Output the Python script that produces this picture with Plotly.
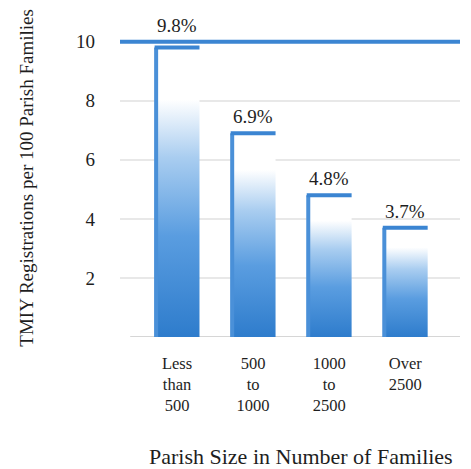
import plotly.graph_objects as go

categories = ["Less<br>than<br>500", "500<br>to<br>1000", "1000<br>to<br>2500", "Over<br>2500"]
values = [9.8, 6.9, 4.8, 3.7]
labels = ["9.8%", "6.9%", "4.8%", "3.7%"]
y_ticks = [2, 4, 6, 8, 10]
top_line = 10

FONT = "Liberation Serif, serif"
TXT = "#1e1e1e"
BLUE = "#3b85d2"
BAR_W = 0.59

fig = go.Figure()

for i, v in enumerate(values):
    x0, x1 = i - BAR_W / 2, i + BAR_W / 2
    fig.add_trace(go.Scatter(
        x=[x0, x1, x1, x0, x0], y=[0, 0, v, v, 0],
        mode="lines", line=dict(width=0), fill="toself",
        fillgradient=dict(
            type="vertical", start=0, stop=v,
            colorscale=[[0, "#2e7ccc"], [0.35, "#5a9de0"], [0.62, "#a9cdf0"],
                        [0.82, "#ffffff"], [1, "#ffffff"]],
        ),
        hoverinfo="skip", showlegend=False,
    ))
    fig.add_trace(go.Scatter(
        x=[x0 + 0.02, x0 + 0.02], y=[0, v],
        mode="lines", line=dict(color="#4a90d8", width=4),
        hoverinfo="skip", showlegend=False,
    ))
    fig.add_trace(go.Scatter(
        x=[x0, x1], y=[v, v],
        mode="lines", line=dict(color=BLUE, width=4),
        hoverinfo="skip", showlegend=False,
    ))

annotations = []
for i, (v, lab) in enumerate(zip(values, labels)):
    base = top_line if top_line - v < 0.5 else v
    annotations.append(dict(
        x=i, y=base, xref="x", yref="y", text=lab, showarrow=False,
        xanchor="center", yanchor="bottom", yshift=4,
        font=dict(family=FONT, size=19, color=TXT),
    ))

annotations += [
    dict(text="TMIY Registrations per 100 Parish Families",
         xref="paper", yref="paper", x=-0.276, y=0.5,
         xanchor="center", yanchor="middle", textangle=-90, showarrow=False,
         font=dict(family=FONT, size=19, color=TXT)),
    dict(text="Parish Size in Number of Families",
         xref="paper", yref="paper", x=0.532, y=-0.376,
         xanchor="center", yanchor="middle", showarrow=False,
         font=dict(family=FONT, size=22, color=TXT)),
]

fig.add_shape(type="line", xref="paper", x0=0, x1=1, yref="y", y0=top_line, y1=top_line,
              line=dict(color=BLUE, width=4), layer="above")
fig.add_shape(type="line", xref="paper", x0=0.03, x1=1, yref="y", y0=0, y1=0,
              line=dict(color="#c8c8c8", width=1.5), layer="below")

fig.update_layout(
    width=471, height=469,
    margin=dict(l=112, r=19, t=10, b=140),
    paper_bgcolor="white", plot_bgcolor="white",
    font=dict(family=FONT, color=TXT),
    xaxis=dict(
        range=[-0.75, 3.72],
        tickvals=list(range(len(categories))), ticktext=categories,
        tickfont=dict(family=FONT, size=16.5, color=TXT),
        showgrid=False, zeroline=False, showline=False,
        ticks="", ticklabelstandoff=14,
    ),
    yaxis=dict(
        range=[0, 10.8],
        tickvals=y_ticks, ticktext=[str(t) for t in y_ticks],
        tickfont=dict(family=FONT, size=19, color=TXT),
        showgrid=True, gridcolor="#e8e8e8", gridwidth=1.5,
        zeroline=False, showline=False, ticks="", ticklabelstandoff=24,
    ),
    annotations=annotations,
)

fig.write_html("out.html")
